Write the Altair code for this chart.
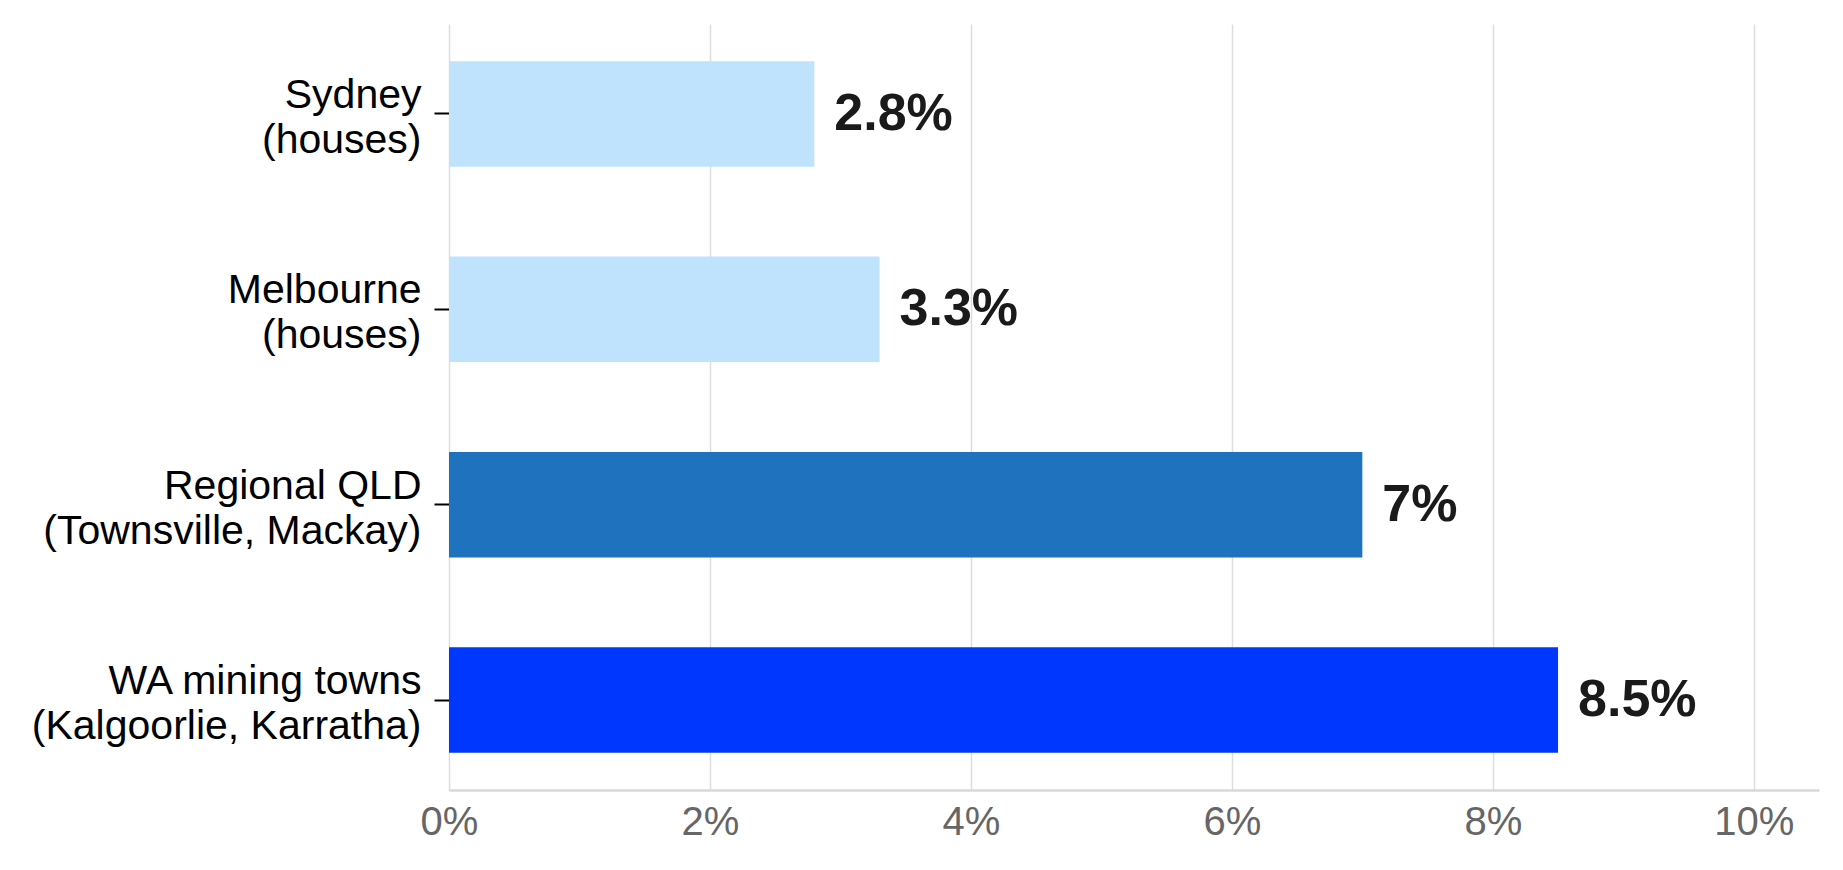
import altair as alt
import pandas as pd

# Data
categories = [
    "Sydney\n(houses)",
    "Melbourne\n(houses)",
    "Regional QLD\n(Townsville, Mackay)",
    "WA mining towns\n(Kalgoorlie, Karratha)",
]
growth = [2.8, 3.3, 7.0, 8.5]
bar_colors = ["#bfe2fd", "#bfe2fd", "#1f72bd", "#0037ff"]
x_ticks = [0, 2, 4, 6, 8, 10]

df = pd.DataFrame({
    "region": categories,
    "growth": growth,
    "color": bar_colors,
    "label": [f"{v:g}%" for v in growth],
})

FONT = "Liberation Sans"

y_enc = alt.Y(
    "region:N",
    sort=categories,
    title=None,
    scale=alt.Scale(paddingInner=0.46, paddingOuter=0.19),
    axis=alt.Axis(
        domain=False,
        ticks=True,
        tickColor="#000000",
        tickSize=15,
        tickWidth=2,
        labelPadding=13,
        labelFontSize=41,
        labelLineHeight=45,
        labelOffset=-18,
        labelLimit=0,
        labelColor="#000000",
        labelFont=FONT,
        labelExpr="split(datum.value, '\\n')",
        grid=False,
    ),
)

x_enc = alt.X(
    "growth:Q",
    title=None,
    scale=alt.Scale(domain=[0, 10.5], nice=False),
    axis=alt.Axis(
        values=x_ticks,
        labelExpr="datum.value + '%'",
        labelFlush=False,
        labelOverlap=False,
        labelFontSize=40,
        labelColor="#666666",
        labelFont=FONT,
        labelPadding=12,
        ticks=False,
        domain=True,
        domainColor="#d9d9d9",
        domainWidth=2.5,
        grid=True,
        gridColor="#dddddd",
        gridWidth=1.5,
    ),
)

base = alt.Chart(df)

bars = base.mark_bar().encode(
    x=x_enc,
    y=y_enc,
    color=alt.Color("color:N", scale=None),
)

labels = base.mark_text(
    align="left",
    baseline="middle",
    dx=20,
    fontSize=52,
    fontWeight="bold",
    font=FONT,
    color="#1a1a1a",
).encode(
    x="growth:Q",
    y=alt.Y("region:N", sort=categories),
    text="label:N",
)

chart = (
    alt.layer(bars, labels)
    .properties(
        width=1370,
        height=766,
        autosize=alt.AutoSizeParams(type="none"),
        padding={"left": 441, "top": 16, "right": 10, "bottom": 60},
        background="white",
    )
    .configure_view(strokeWidth=0)
)

chart.save("out.html", embed_options={"renderer": "svg", "actions": False})
